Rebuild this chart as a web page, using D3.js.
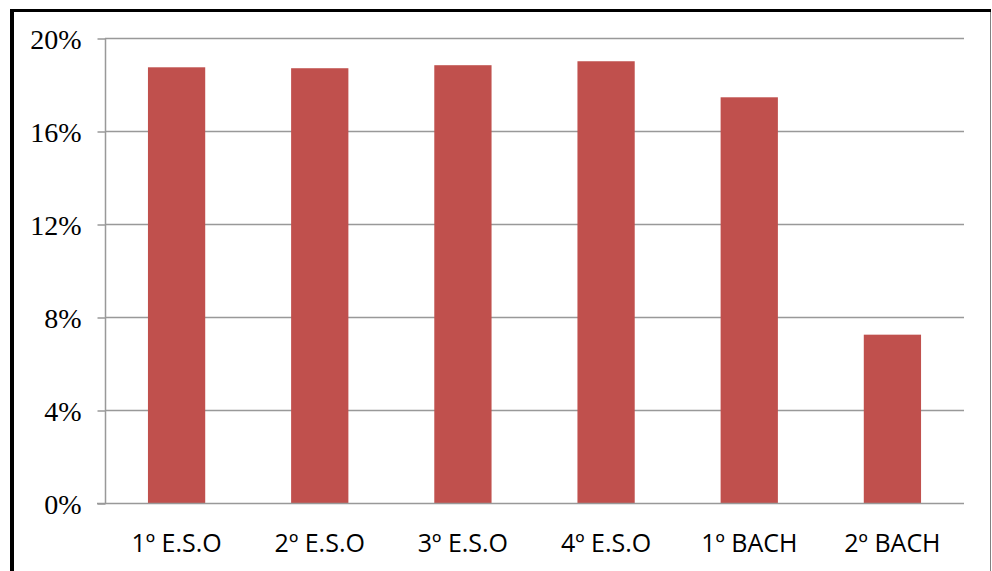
<!DOCTYPE html>
<html>
<head>
<meta charset="utf-8">
<script src="https://cdn.jsdelivr.net/npm/d3@7/dist/d3.min.js"></script>
<style>
  html, body { margin: 0; padding: 0; background: #fff; }
  svg { display: block; }
</style>
</head>
<body>
<svg id="chart" width="992" height="571"></svg>
<script>
// Share of students per course
const categories = ["1º E.S.O", "2º E.S.O", "3º E.S.O", "4º E.S.O", "1º BACH", "2º BACH"];
const values = [18.74, 18.70, 18.83, 19.00, 17.45, 7.24];
const tickValues = [0, 4, 8, 12, 16, 20];

const svg = d3.select("#chart");
const W = 992, H = 571;
const plot = { left: 105, right: 964, top: 38, bottom: 503 };

// Frame around the chart
svg.append("rect").attr("x", 0).attr("y", 0).attr("width", W).attr("height", H).attr("fill", "#fff");
svg.append("line").attr("x1", 10).attr("x2", 991).attr("y1", 10.5).attr("y2", 10.5)
  .attr("stroke", "#000").attr("stroke-width", 3);
svg.append("line").attr("x1", 12).attr("x2", 12).attr("y1", 9).attr("y2", H)
  .attr("stroke", "#000").attr("stroke-width", 4);
svg.append("line").attr("x1", 990.5).attr("x2", 990.5).attr("y1", 12).attr("y2", H)
  .attr("stroke", "#808080").attr("stroke-width", 1);

const x = d3.scaleBand().domain(categories).range([plot.left, plot.right]).padding(0);
const y = d3.scaleLinear().domain([0, 20]).range([plot.bottom, plot.top]);

const gridColor = "#999999";

// Horizontal gridlines
svg.append("g").selectAll("line").data(tickValues.filter(d => d > 0)).join("line")
  .attr("x1", plot.left).attr("x2", plot.right)
  .attr("y1", d => Math.round(y(d)) + 0.5).attr("y2", d => Math.round(y(d)) + 0.5)
  .attr("stroke", gridColor).attr("stroke-width", 1.5);

// Bars
const barW = x.bandwidth() * 0.4;
svg.append("g").selectAll("rect").data(categories).join("rect")
  .attr("x", (d) => x(d) + (x.bandwidth() - barW) / 2)
  .attr("width", barW)
  .attr("y", (d, i) => y(values[i]))
  .attr("height", (d, i) => y(0) - y(values[i]))
  .attr("fill", "#C0504D");

// Y axis
const yAxis = d3.axisLeft(y).tickValues(tickValues).tickSize(8).tickPadding(16)
  .tickFormat(d => d + "%");
const gy = svg.append("g").attr("transform", `translate(${plot.left + 0.5},0.5)`).call(yAxis);
gy.select(".domain").attr("stroke", gridColor).attr("stroke-width", 1.5).attr("d", `M0,${plot.top - 0.5}V${plot.bottom}`);
gy.selectAll(".tick line").attr("stroke", gridColor).attr("stroke-width", 1.5);
gy.selectAll(".tick text")
  .attr("fill", "#000")
  .style("font-family", "'Liberation Serif', serif")
  .style("font-size", "28px")
  .attr("dy", "0.34em");

// X axis
const xAxis = d3.axisBottom(x).tickSize(0).tickPadding(31);
const gx = svg.append("g").attr("transform", `translate(0,${Math.round(y(0)) + 0.5})`).call(xAxis);
gx.select(".domain").attr("stroke", gridColor).attr("stroke-width", 1.5).attr("d", `M${plot.left - 8},0H${plot.right}`);
gx.selectAll(".tick text")
  .attr("fill", "#000")
  .style("font-family", "'Open Sans', sans-serif")
  .style("font-size", "25px");
</script>
</body>
</html>
